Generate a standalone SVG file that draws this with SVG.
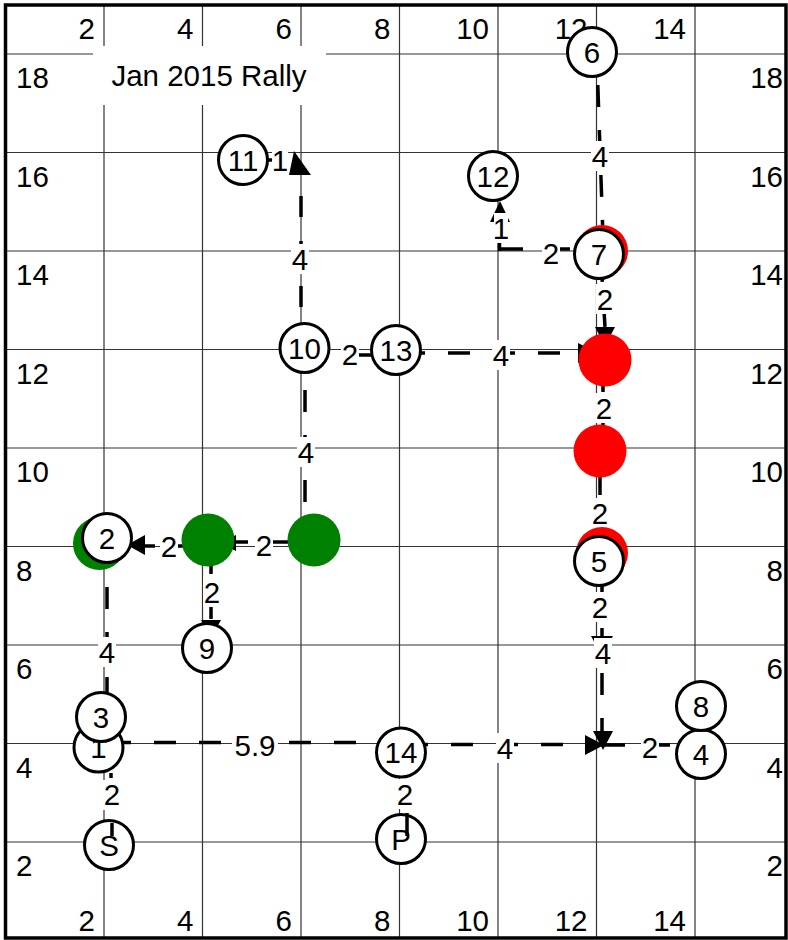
<svg xmlns="http://www.w3.org/2000/svg" width="788" height="940" viewBox="0 0 788 940">
<style>
text{font-family:"Liberation Sans",Arial,Helvetica,sans-serif;font-size:29.5px;fill:#000}
.grid line{stroke:#333;stroke-width:1.2}
.te{text-anchor:end}
.tm{text-anchor:middle}
.node circle{fill:#fff;stroke:#000;stroke-width:3}
.node text{text-anchor:middle}
.dash{stroke:#000;stroke-width:3.5;fill:none;stroke-dasharray:22 23}
.seg{stroke:#000;stroke-width:3.5;fill:none}
.lbl rect{fill:#fff}
.lbl text{text-anchor:middle}
.arr{fill:#000}
.red{fill:#ff0000}
.green{fill:#008000}
</style>
<rect x="0" y="0" width="788" height="940" fill="#fff"/>
<g class="grid">
<line x1="104" y1="5" x2="104" y2="938"/><line x1="202.5" y1="5" x2="202.5" y2="938"/><line x1="301" y1="5" x2="301" y2="938"/><line x1="399.5" y1="5" x2="399.5" y2="938"/><line x1="498" y1="5" x2="498" y2="938"/><line x1="596.5" y1="5" x2="596.5" y2="938"/><line x1="695" y1="5" x2="695" y2="938"/>
<line x1="6" y1="54" x2="786" y2="54"/><line x1="6" y1="152.5" x2="786" y2="152.5"/><line x1="6" y1="251" x2="786" y2="251"/><line x1="6" y1="349.5" x2="786" y2="349.5"/><line x1="6" y1="448" x2="786" y2="448"/><line x1="6" y1="546.5" x2="786" y2="546.5"/><line x1="6" y1="645" x2="786" y2="645"/><line x1="6" y1="743.5" x2="786" y2="743.5"/><line x1="6" y1="842" x2="786" y2="842"/>
</g>
<rect x="5.5" y="5" width="780.5" height="933" fill="none" stroke="#000" stroke-width="3.5"/>
<g id="axis">
<text class="te" x="95" y="39">2</text><text class="te" x="193.5" y="39">4</text><text class="te" x="292" y="39">6</text><text class="te" x="390.5" y="39">8</text><text class="te" x="489" y="39">10</text><text class="te" x="587.5" y="39">12</text><text class="te" x="686" y="39">14</text>
<text class="te" x="95" y="931">2</text><text class="te" x="193.5" y="931">4</text><text class="te" x="292" y="931">6</text><text class="te" x="390.5" y="931">8</text><text class="te" x="489" y="931">10</text><text class="te" x="587.5" y="931">12</text><text class="te" x="686" y="931">14</text>
<text x="16" y="88">18</text><text x="16" y="186.5">16</text><text x="16" y="285">14</text><text x="16" y="383.5">12</text><text x="16" y="482">10</text><text x="16" y="580.5">8</text><text x="16" y="679">6</text><text x="16" y="777.5">4</text><text x="16" y="876">2</text>
<text class="te" x="783" y="88">18</text><text class="te" x="783" y="186.5">16</text><text class="te" x="783" y="285">14</text><text class="te" x="783" y="383.5">12</text><text class="te" x="783" y="482">10</text><text class="te" x="783" y="580.5">8</text><text class="te" x="783" y="679">6</text><text class="te" x="783" y="777.5">4</text><text class="te" x="783" y="876">2</text>
</g>
<g id="title">
<rect x="93" y="46" width="233" height="59" fill="#fff"/>
<text class="tm" x="209" y="86">Jan 2015 Rally</text>
</g>
<g id="connectors">
<g id="c-S-1"><path class="seg" d="M111 773V778"/><g class="lbl"><rect x="103" y="780" width="18" height="30"/><text x="112" y="805">2</text></g></g>
<g id="c-1-14"><path class="dash" d="M109 742.5H380"/><g class="lbl"><rect x="232" y="731" width="46" height="30"/><text x="255" y="756">5.9</text></g></g>
<g id="c-14-x"><path class="dash" d="M406 744.5H585"/><polygon class="arr" points="585,735 585,755 604,745"/><g class="lbl"><rect x="496" y="733" width="18" height="30"/><text x="505" y="759">4</text></g></g>
<g id="c-x-4"><path class="dash" d="M603 745H676"/><g class="lbl"><rect x="641" y="732" width="18" height="30"/><text x="650" y="758">2</text></g></g>
<g id="c-5-x"><path class="dash" d="M602 583V740"/><polygon class="arr" points="591,636 613,636 602,656"/><polygon class="arr" points="593,731 613,731 603,750"/><g class="lbl"><rect x="591" y="592" width="18" height="30"/><text x="600" y="618">2</text></g><g class="lbl"><rect x="594" y="638" width="18" height="30"/><text x="603" y="664">4</text></g></g>
<g id="c-r2-5"><path class="dash" d="M600 473V540"/><g class="lbl"><rect x="591" y="498" width="18" height="30"/><text x="600" y="524">2</text></g></g>
<g id="c-r1-r2"><path class="dash" d="M603 370V440"/><g class="lbl"><rect x="595" y="393" width="18" height="30"/><text x="604" y="419">2</text></g></g>
<g id="c-7-r1"><path class="dash" d="M601 260L605 327"/><polygon class="arr" points="595,327 615,327 605,346"/><g class="lbl"><rect x="596" y="284" width="18" height="30"/><text x="605" y="310">2</text></g></g>
<g id="c-13-r1"><path class="dash" d="M403 353H580"/><polygon class="arr" points="578,343 578,363 598,353"/><g class="lbl"><rect x="492" y="340" width="18" height="30"/><text x="501" y="366">4</text></g></g>
<g id="c-10-13"><path class="seg" d="M348 355H372"/><g class="lbl"><rect x="341" y="339" width="18" height="30"/><text x="350" y="365">2</text></g></g>
<g id="c-10-11"><path class="seg" d="M301 307V175" stroke-dasharray="21 24"/><polygon class="arr" points="289,175 311,175 294,151"/><path class="seg" d="M266 160H272"/><g class="lbl"><rect x="272" y="146" width="16" height="30"/><text x="280" y="171">1</text></g><g class="lbl"><rect x="291" y="244" width="18" height="30"/><text x="300" y="270">4</text></g></g>
<g id="c-10-g2"><path class="dash" d="M305 390V525"/><g class="lbl"><rect x="297" y="437" width="18" height="30"/><text x="306" y="463">4</text></g></g>
<g id="c-g2-g1"><path class="dash" d="M293 542H226"/><polygon class="arr" points="236,535 236,551 220,543"/><g class="lbl"><rect x="255" y="530" width="18" height="30"/><text x="264" y="556">2</text></g></g>
<g id="c-g1-2"><path class="dash" d="M200 546H133"/><polygon class="arr" points="145,535 145,555 127,545"/><g class="lbl"><rect x="160" y="531" width="18" height="30"/><text x="169" y="557">2</text></g></g>
<g id="c-g1-9"><path class="dash" d="M211 552V620"/><polygon class="arr" points="201,620 221,620 211,638"/><g class="lbl"><rect x="203" y="577" width="18" height="30"/><text x="212" y="603">2</text></g></g>
<g id="c-3-2"><path class="dash" d="M107 587V700"/><g class="lbl"><rect x="98" y="637" width="18" height="30"/><text x="107" y="663">4</text></g></g>
<g id="c-7-12"><path class="seg" d="M548 249H570M500 249H523M499.5 251V240"/><polygon class="arr" points="490,222 510,222 500,201"/><g class="lbl"><rect x="494" y="213" width="14" height="30"/><text x="501" y="239">1</text></g><g class="lbl"><rect x="542" y="238" width="18" height="30"/><text x="551" y="264">2</text></g></g>
<g id="c-6-7"><path class="dash" d="M597.8 85L603.2 243"/><g class="lbl"><rect x="591" y="141" width="18" height="30"/><text x="600" y="167">4</text></g></g>
<g id="c-14-P"><g class="lbl"><rect x="396" y="779" width="18" height="30"/><text x="405" y="805">2</text></g></g>
</g>
<g id="dots">
<circle class="red" cx="602" cy="251" r="26"/>
<circle class="red" cx="605" cy="360" r="26.5"/>
<circle class="red" cx="600" cy="451" r="26.5"/>
<circle class="red" cx="602" cy="553" r="26"/>
<circle class="green" cx="99.5" cy="543.5" r="26.5"/>
<circle class="green" cx="208" cy="540" r="26.5"/>
<circle class="green" cx="314" cy="540" r="26.5"/>
</g>
<g id="n-S" class="node"><circle cx="109" cy="845" r="24.5"/><text x="109" y="855.5">S</text></g>
<g id="n-1" class="node"><circle cx="98.5" cy="747.5" r="24.5"/><text x="98.5" y="758">1</text></g>
<g id="n-3" class="node"><circle cx="101" cy="717" r="24.5"/><text x="101" y="727.5">3</text></g>
<g id="n-2" class="node"><circle cx="107" cy="538" r="24.5"/><text x="107" y="548.5">2</text></g>
<g id="n-9" class="node"><circle cx="207" cy="648" r="24.5"/><text x="207" y="658.5">9</text></g>
<g id="n-10" class="node"><circle cx="304.5" cy="348" r="24.5"/><text x="304.5" y="358.5">10</text></g>
<g id="n-11" class="node"><circle cx="243" cy="160" r="24.5"/><text x="243" y="170.5">11</text></g>
<g id="n-12" class="node"><circle cx="493" cy="176" r="24.5"/><text x="493" y="186.5">12</text></g>
<g id="n-13" class="node"><circle cx="396" cy="350" r="24.5"/><text x="396" y="360.5">13</text></g>
<g id="n-6" class="node"><circle cx="592" cy="52" r="24.5"/><text x="592" y="62.5">6</text></g>
<g id="n-7" class="node"><circle cx="599" cy="254" r="24.5"/><text x="599" y="264.5">7</text></g>
<g id="n-5" class="node"><circle cx="599" cy="561" r="24.5"/><text x="599" y="571.5">5</text></g>
<g id="n-14" class="node"><circle cx="401" cy="752.5" r="24.5"/><text x="401" y="763">14</text></g>
<g id="n-P" class="node"><circle cx="401" cy="839" r="24.5"/><text x="401" y="849.5">P</text></g>
<g id="n-4" class="node"><circle cx="701" cy="754" r="24.5"/><text x="701" y="764.5">4</text></g>
<g id="n-8" class="node"><circle cx="701" cy="706" r="24.5"/><text x="701" y="716.5">8</text></g>
<g id="connector-marks">
<path class="seg" d="M112 823V836M407 813V836"/>
</g>
</svg>
